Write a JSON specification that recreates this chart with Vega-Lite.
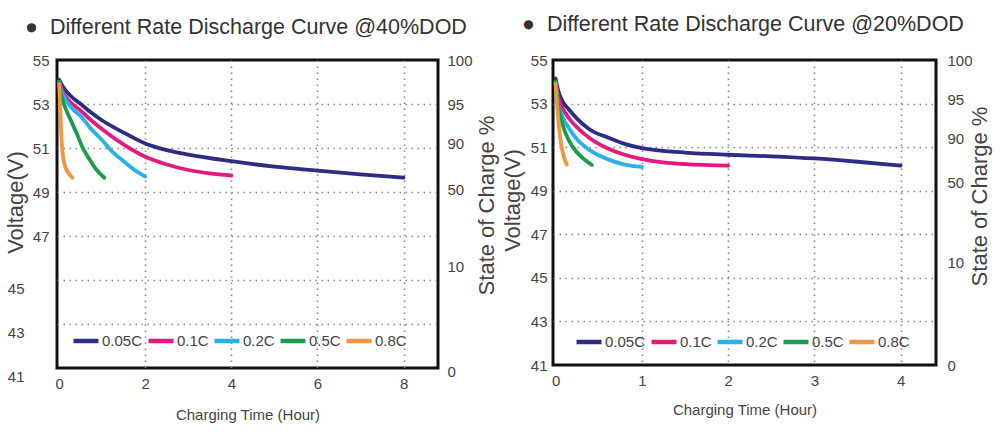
{
  "$schema": "https://vega.github.io/schema/vega-lite/v6.json",
  "background": "white",
  "padding": {"left": 2, "top": 12, "right": 2, "bottom": 4},
  "spacing": 0,
  "config": {
    "view": {"stroke": "#111", "strokeWidth": 3},
    "font": "Liberation Sans",
    "axis": {
      "ticks": false,
      "domain": false,
      "labelFont": "Liberation Sans, sans-serif",
      "labelFontSize": 15,
      "labelColor": "#444",
      "titleFont": "Liberation Sans, Arial, sans-serif",
      "titleFontWeight": "normal",
      "titleColor": "#444",
      "gridColor": "#888",
      "gridDash": [1.5, 4.5],
      "gridWidth": 1.6,
      "labelOverlap": false,
      "labelFlush": false
    },
    "legend": {
      "orient": "none",
      "direction": "horizontal",
      "symbolType": "stroke",
      "symbolSize": 625,
      "symbolStrokeWidth": 4.5,
      "labelFont": "Liberation Sans, sans-serif",
      "labelFontSize": 15,
      "labelColor": "#444",
      "columnPadding": -4,
      "labelOffset": 1,
      "padding": 0
    },
    "title": {
      "font": "Liberation Sans, sans-serif",
      "fontSize": 21.5,
      "fontWeight": "normal",
      "color": "#333",
      "anchor": "start",
      "frame": "group"
    }
  },
  "datasets": {
    "dod40": [
      {"rate": "0.05C", "t": 0, "v": 54.1}, {"rate": "0.05C", "t": 0.1, "v": 53.75}, {"rate": "0.05C", "t": 0.25, "v": 53.4}, {"rate": "0.05C", "t": 0.5, "v": 53.0}, {"rate": "0.05C", "t": 0.75, "v": 52.6}, {"rate": "0.05C", "t": 1, "v": 52.25}, {"rate": "0.05C", "t": 1.5, "v": 51.7}, {"rate": "0.05C", "t": 2, "v": 51.2}, {"rate": "0.05C", "t": 2.5, "v": 50.9}, {"rate": "0.05C", "t": 3, "v": 50.7}, {"rate": "0.05C", "t": 4, "v": 50.4}, {"rate": "0.05C", "t": 5, "v": 50.15}, {"rate": "0.05C", "t": 6, "v": 49.97}, {"rate": "0.05C", "t": 7, "v": 49.8}, {"rate": "0.05C", "t": 8, "v": 49.65},
      {"rate": "0.1C", "t": 0, "v": 54.0}, {"rate": "0.1C", "t": 0.1, "v": 53.5}, {"rate": "0.1C", "t": 0.25, "v": 53.1}, {"rate": "0.1C", "t": 0.5, "v": 52.7}, {"rate": "0.1C", "t": 0.75, "v": 52.25}, {"rate": "0.1C", "t": 1, "v": 51.85}, {"rate": "0.1C", "t": 1.5, "v": 51.15}, {"rate": "0.1C", "t": 2, "v": 50.6}, {"rate": "0.1C", "t": 2.5, "v": 50.25}, {"rate": "0.1C", "t": 3, "v": 50.0}, {"rate": "0.1C", "t": 3.5, "v": 49.85}, {"rate": "0.1C", "t": 4, "v": 49.75},
      {"rate": "0.2C", "t": 0, "v": 54.0}, {"rate": "0.2C", "t": 0.05, "v": 53.6}, {"rate": "0.2C", "t": 0.15, "v": 53.2}, {"rate": "0.2C", "t": 0.3, "v": 52.8}, {"rate": "0.2C", "t": 0.5, "v": 52.45}, {"rate": "0.2C", "t": 0.75, "v": 51.85}, {"rate": "0.2C", "t": 1, "v": 51.35}, {"rate": "0.2C", "t": 1.25, "v": 50.8}, {"rate": "0.2C", "t": 1.5, "v": 50.4}, {"rate": "0.2C", "t": 1.75, "v": 50.0}, {"rate": "0.2C", "t": 2, "v": 49.7},
      {"rate": "0.5C", "t": 0, "v": 54.0}, {"rate": "0.5C", "t": 0.05, "v": 53.4}, {"rate": "0.5C", "t": 0.15, "v": 52.8}, {"rate": "0.5C", "t": 0.25, "v": 52.35}, {"rate": "0.5C", "t": 0.4, "v": 51.7}, {"rate": "0.5C", "t": 0.55, "v": 51.0}, {"rate": "0.5C", "t": 0.7, "v": 50.5}, {"rate": "0.5C", "t": 0.85, "v": 50.05}, {"rate": "0.5C", "t": 1.05, "v": 49.65},
      {"rate": "0.8C", "t": 0, "v": 53.9}, {"rate": "0.8C", "t": 0.02, "v": 53.0}, {"rate": "0.8C", "t": 0.04, "v": 52.0}, {"rate": "0.8C", "t": 0.07, "v": 51.0}, {"rate": "0.8C", "t": 0.1, "v": 50.5}, {"rate": "0.8C", "t": 0.15, "v": 50.1}, {"rate": "0.8C", "t": 0.22, "v": 49.85}, {"rate": "0.8C", "t": 0.31, "v": 49.65}
    ],
    "dod20": [
      {"rate": "0.05C", "t": 0, "v": 54.15}, {"rate": "0.05C", "t": 0.03, "v": 53.6}, {"rate": "0.05C", "t": 0.08, "v": 53.1}, {"rate": "0.05C", "t": 0.15, "v": 52.75}, {"rate": "0.05C", "t": 0.25, "v": 52.3}, {"rate": "0.05C", "t": 0.4, "v": 51.8}, {"rate": "0.05C", "t": 0.6, "v": 51.45}, {"rate": "0.05C", "t": 0.8, "v": 51.15}, {"rate": "0.05C", "t": 1, "v": 50.95}, {"rate": "0.05C", "t": 1.5, "v": 50.75}, {"rate": "0.05C", "t": 2, "v": 50.65}, {"rate": "0.05C", "t": 2.5, "v": 50.58}, {"rate": "0.05C", "t": 3, "v": 50.48}, {"rate": "0.05C", "t": 3.5, "v": 50.33}, {"rate": "0.05C", "t": 4, "v": 50.15},
      {"rate": "0.1C", "t": 0, "v": 54.0}, {"rate": "0.1C", "t": 0.03, "v": 53.3}, {"rate": "0.1C", "t": 0.08, "v": 52.8}, {"rate": "0.1C", "t": 0.15, "v": 52.35}, {"rate": "0.1C", "t": 0.25, "v": 51.9}, {"rate": "0.1C", "t": 0.4, "v": 51.4}, {"rate": "0.1C", "t": 0.6, "v": 50.95}, {"rate": "0.1C", "t": 0.8, "v": 50.65}, {"rate": "0.1C", "t": 1, "v": 50.45}, {"rate": "0.1C", "t": 1.25, "v": 50.3}, {"rate": "0.1C", "t": 1.5, "v": 50.22}, {"rate": "0.1C", "t": 2, "v": 50.15},
      {"rate": "0.2C", "t": 0, "v": 54.0}, {"rate": "0.2C", "t": 0.03, "v": 53.0}, {"rate": "0.2C", "t": 0.08, "v": 52.4}, {"rate": "0.2C", "t": 0.15, "v": 51.9}, {"rate": "0.2C", "t": 0.25, "v": 51.35}, {"rate": "0.2C", "t": 0.4, "v": 50.85}, {"rate": "0.2C", "t": 0.6, "v": 50.45}, {"rate": "0.2C", "t": 0.8, "v": 50.2}, {"rate": "0.2C", "t": 1, "v": 50.1},
      {"rate": "0.5C", "t": 0, "v": 54.0}, {"rate": "0.5C", "t": 0.03, "v": 52.9}, {"rate": "0.5C", "t": 0.07, "v": 52.2}, {"rate": "0.5C", "t": 0.12, "v": 51.6}, {"rate": "0.5C", "t": 0.2, "v": 51.0}, {"rate": "0.5C", "t": 0.3, "v": 50.55}, {"rate": "0.5C", "t": 0.42, "v": 50.18},
      {"rate": "0.8C", "t": 0, "v": 53.9}, {"rate": "0.8C", "t": 0.02, "v": 52.8}, {"rate": "0.8C", "t": 0.04, "v": 51.9}, {"rate": "0.8C", "t": 0.07, "v": 51.0}, {"rate": "0.8C", "t": 0.1, "v": 50.5}, {"rate": "0.8C", "t": 0.13, "v": 50.2}
    ]
  },
  "hconcat": [
    {
      "width": 381,
      "height": 308,
      "data": {"name": "dod40"},
      "title": {"text": "●\u00a0\u00a0Different Rate Discharge Curve @40%DOD", "dx": -32, "offset": 15},
      "layer": [
        {
          "mark": {"type": "line", "strokeWidth": 3.8, "strokeCap": "round", "interpolate": "monotone"},
          "encoding": {
            "x": {
              "field": "t", "type": "quantitative",
              "scale": {"domain": [-0.05, 8.8], "nice": false, "zero": false},
              "axis": {
                "values": [0, 2, 4, 6, 8], "title": "Charging Time (Hour)", "titleFontSize": 15,
                "labelPadding": 8, "titlePadding": 16,
                "gridOpacity": {"condition": {"test": "datum.value == 0", "value": 0}, "value": 1}
              }
            },
            "y": {
              "field": "v", "type": "quantitative",
              "scale": {"domain": [41, 55], "nice": false, "zero": false},
              "axis": {
                "values": [55, 53, 51, 49, 47, 45, 43, 41], "title": "Voltage(V)", "titleFontSize": 22,
                "titleX": -30, "titleY": 142, "titleBaseline": "bottom", "titleAngle": -90,
                "labelOffset": {"condition": {"test": "datum.value < 46", "value": 8}, "value": 0},
                "labelPadding": {"condition": {"test": "datum.value < 46", "value": 33}, "value": 8},
                "gridOpacity": {"condition": {"test": "datum.value > 54 || datum.value < 42", "value": 0}, "value": 1}
              }
            },
            "color": {
              "field": "rate", "type": "nominal",
              "scale": {"domain": ["0.05C", "0.1C", "0.2C", "0.5C", "0.8C"], "range": ["#2e2d84", "#e6197f", "#27b2e8", "#1a9b4f", "#f2963f"]},
              "legend": {"title": null, "legendX": 14, "legendY": 266}
            }
          }
        },
        {
          "mark": {"type": "rule", "opacity": 0},
          "encoding": {
            "y": {
              "field": "v", "type": "quantitative",
              "scale": {"domain": [41, 55], "nice": false, "zero": false},
              "axis": {
                "orient": "right", "grid": false,
                "values": [55, 53, 51.2, 49.1, 45.6, 41],
                "labelExpr": "datum.value > 54 ? '100' : datum.value > 52 ? '95' : datum.value > 50 ? '90' : datum.value > 48 ? '50' : datum.value > 43 ? '10' : '0'",
                "labelPadding": 9,
                "labelOffset": {"condition": {"test": "datum.value < 42", "value": 3}, "value": 0},
                "title": "State of Charge %", "titleFontSize": 22,
                "titleAngle": -90, "titleBaseline": "bottom", "titleX": 60, "titleY": 145
              }
            }
          }
        }
      ],
      "resolve": {"scale": {"y": "independent"}}
    },
    {
      "width": 383,
      "height": 305,
      "data": {"name": "dod20"},
      "title": {"text": "●\u00a0\u00a0Different Rate Discharge Curve @20%DOD", "dx": -31, "offset": 18},
      "layer": [
        {
          "mark": {"type": "line", "strokeWidth": 3.8, "strokeCap": "round", "interpolate": "monotone"},
          "encoding": {
            "x": {
              "field": "t", "type": "quantitative",
              "scale": {"domain": [-0.03, 4.41], "nice": false, "zero": false},
              "axis": {
                "values": [0, 1, 2, 3, 4], "title": "Charging Time (Hour)", "titleFontSize": 15,
                "labelPadding": 8, "titlePadding": 14,
                "gridOpacity": {"condition": {"test": "datum.value == 0", "value": 0}, "value": 1}
              }
            },
            "y": {
              "field": "v", "type": "quantitative",
              "scale": {"domain": [41, 55], "nice": false, "zero": false},
              "axis": {
                "values": [55, 53, 51, 49, 47, 45, 43, 41], "title": "Voltage(V)", "titleFontSize": 22,
                "titleX": -29, "titleY": 140, "titleBaseline": "bottom", "titleAngle": -90,
                "labelPadding": 6,
                "gridOpacity": {"condition": {"test": "datum.value > 54 || datum.value < 42", "value": 0}, "value": 1}
              }
            },
            "color": {
              "field": "rate", "type": "nominal",
              "scale": {"domain": ["0.05C", "0.1C", "0.2C", "0.5C", "0.8C"], "range": ["#2e2d84", "#e6197f", "#27b2e8", "#1a9b4f", "#f2963f"]},
              "legend": {"title": null, "legendX": 21, "legendY": 267}
            }
          }
        },
        {
          "mark": {"type": "rule", "opacity": 0},
          "encoding": {
            "y": {
              "field": "v", "type": "quantitative",
              "scale": {"domain": [41, 55], "nice": false, "zero": false},
              "axis": {
                "orient": "right", "grid": false,
                "values": [55, 53.2, 51.4, 49.4, 45.7, 41],
                "labelExpr": "datum.value > 54 ? '100' : datum.value > 52 ? '95' : datum.value > 50 ? '90' : datum.value > 48 ? '50' : datum.value > 43 ? '10' : '0'",
                "labelPadding": 11,
                "title": "State of Charge %", "titleFontSize": 22,
                "titleAngle": -90, "titleBaseline": "bottom", "titleX": 55, "titleY": 136
              }
            }
          }
        }
      ],
      "resolve": {"scale": {"y": "independent"}}
    }
  ],
  "resolve": {"legend": {"color": "independent"}}
}
